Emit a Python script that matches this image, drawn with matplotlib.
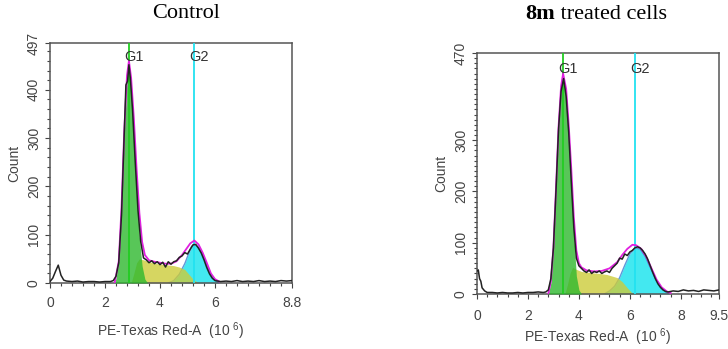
"""Cell-cycle DNA histograms: control vs 8m treated cells."""

import matplotlib

matplotlib.use("Agg")
import matplotlib.pyplot as plt
import matplotlib.transforms as mtransforms
from matplotlib.ticker import MultipleLocator

# ---- Control panel data (x in 10^6 units, y in counts) ----
ctrl_hist_x = [0.0, 0.1, 0.2, 0.3, 0.4, 0.5, 0.6, 0.8, 1.0, 1.2, 1.4, 1.6, 1.8, 2.0,
               2.2, 2.3, 2.4, 2.5, 2.6, 2.7, 2.76, 2.82, 2.87, 2.92, 3.0, 3.1, 3.2,
               3.3, 3.4, 3.5, 3.6, 3.7, 3.8, 3.9, 4.0, 4.1, 4.2, 4.3, 4.4, 4.5, 4.6,
               4.7, 4.8, 4.9, 5.0, 5.1, 5.2, 5.3, 5.4, 5.5, 5.6, 5.7, 5.8, 5.9, 6.0,
               6.2, 6.4, 6.6, 6.8, 7.0, 7.2, 7.4, 7.6, 7.8, 8.0, 8.2, 8.4, 8.6, 8.8]
ctrl_hist_y = [3, 10, 24, 37, 16, 6, 4, 3, 4, 2, 3, 3, 2, 3,
               3, 5, 14, 42, 140, 310, 410, 418, 452, 425, 360, 250, 150,
               85, 52, 48, 42, 46, 40, 44, 38, 43, 33, 44, 39, 44, 46,
               53, 56, 63, 60, 70, 79, 80, 72, 62, 48, 32, 19, 10, 5,
               3, 4, 3, 5, 3, 4, 3, 5, 3, 4, 3, 5, 4, 5]

ctrl_fit_x = [2.35, 2.5, 2.6, 2.7, 2.8, 2.87, 2.95, 3.05, 3.15, 3.25, 3.35, 3.45,
              3.6, 3.8, 4.0, 4.2, 4.4, 4.6, 4.8, 4.95, 5.1, 5.25, 5.4, 5.55, 5.7,
              5.85, 6.0, 6.15]
ctrl_fit_y = [0, 45, 155, 315, 430, 460, 425, 340, 235, 145, 85, 58,
              47, 44, 42, 40, 40, 45, 58, 70, 82, 88, 80, 63, 42,
              20, 8, 3]

ctrl_g1_x = [2.35, 2.4, 2.5, 2.6, 2.7, 2.8, 2.87, 2.95, 3.05, 3.15, 3.25, 3.35,
             3.45, 3.55]
ctrl_g1_y = [0, 10, 45, 150, 310, 425, 455, 420, 320, 195, 95, 35, 8, 0]

ctrl_s_x = [2.95, 3.05, 3.15, 3.25, 3.4, 3.6, 3.9, 4.2, 4.5, 4.7, 4.9, 5.05, 5.2,
            5.35, 5.45]
ctrl_s_y = [0, 20, 42, 50, 48, 44, 40, 38, 36, 33, 28, 18, 8, 2, 0]

ctrl_g2_x = [4.3, 4.5, 4.7, 4.9, 5.05, 5.15, 5.25, 5.4, 5.55, 5.7, 5.85, 6.0, 6.15]
ctrl_g2_y = [0, 5, 18, 40, 62, 76, 80, 74, 58, 38, 18, 6, 0]

ctrl_gates = [2.86, 5.25]
ctrl_xticks = [0, 2, 4, 6, 8.8]
ctrl_xlabels = ["0", "2", "4", "6", "8.8"]
ctrl_yticks = [0, 100, 200, 300, 400, 497]
ctrl_ylabels = ["0", "100", "200", "300", "400", "497"]

# ---- 8m treated panel data ----
trt_hist_x = [0.0, 0.05, 0.1, 0.15, 0.2, 0.3, 0.4, 0.6, 0.8, 1.0, 1.2, 1.4, 1.6,
              1.8, 2.0, 2.2, 2.4, 2.6, 2.7, 2.8, 2.9, 3.0, 3.1, 3.2, 3.3, 3.4,
              3.5, 3.6, 3.7, 3.8, 3.9, 4.0, 4.1, 4.2, 4.3, 4.4, 4.5, 4.6, 4.7,
              4.8, 4.9, 5.0, 5.1, 5.2, 5.3, 5.4, 5.5, 5.6, 5.7, 5.8, 5.9, 6.0,
              6.1, 6.2, 6.3, 6.4, 6.5, 6.6, 6.7, 6.8, 6.9, 7.0, 7.1, 7.2, 7.3,
              7.4, 7.5, 7.7, 7.9, 8.1, 8.3, 8.5, 8.7, 8.9, 9.1, 9.3, 9.5]
trt_hist_y = [45, 47, 30, 25, 12, 6, 3, 3, 2, 3, 2, 2, 3,
              2, 3, 3, 4, 3, 4, 8, 30, 90, 200, 320, 395, 420,
              385, 315, 220, 130, 70, 55, 50, 45, 42, 47, 40, 44, 42,
              45, 40, 43, 45, 42, 50, 55, 60, 70, 68, 78, 75, 82,
              85, 90, 92, 90, 85, 78, 68, 55, 42, 30, 20, 13, 8,
              5, 4, 6, 5, 8, 6, 7, 5, 8, 7, 6, 8]

trt_fit_x = [2.8, 2.9, 3.0, 3.1, 3.2, 3.3, 3.38, 3.5, 3.6, 3.7, 3.8, 3.9,
             4.0, 4.1, 4.3, 4.6, 4.9, 5.2, 5.5, 5.7, 5.9, 6.1, 6.25, 6.45, 6.65,
             6.85, 7.05, 7.25, 7.45, 7.6]
trt_fit_y = [0, 25, 90, 205, 325, 405, 430, 400, 330, 245, 150, 85,
             60, 52, 46, 44, 45, 50, 62, 76, 88, 96, 95, 88, 72,
             50, 28, 13, 5, 2]

trt_g1_x = [2.8, 2.9, 3.0, 3.1, 3.2, 3.3, 3.38, 3.5, 3.6, 3.7, 3.8, 3.9, 4.0, 4.1]
trt_g1_y = [0, 22, 90, 200, 320, 400, 420, 390, 320, 230, 115, 35, 8, 0]

trt_s_x = [3.45, 3.55, 3.65, 3.75, 3.9, 4.1, 4.4, 4.8, 5.1, 5.3, 5.5, 5.7, 5.9,
           6.05, 6.15]
trt_s_y = [0, 18, 40, 52, 48, 44, 42, 40, 38, 35, 32, 24, 12, 4, 0]

trt_g2_x = [5.0, 5.2, 5.4, 5.6, 5.8, 6.0, 6.2, 6.4, 6.6, 6.8, 7.0, 7.2, 7.4, 7.55]
trt_g2_y = [0, 6, 15, 32, 56, 78, 90, 88, 74, 52, 30, 14, 5, 0]

trt_gates = [3.37, 6.19]
trt_xticks = [0, 2, 4, 6, 8, 9.5]
trt_xlabels = ["0", "2", "4", "6", "8", "9.5"]
trt_yticks = [0, 100, 200, 300, 470]
trt_ylabels = ["0", "100", "200", "300", "470"]

gate_names = ["G1", "G2"]

W, H = 728, 349
SANS = ["Liberation Sans", "DejaVu Sans"]
SERIF = ["Liberation Serif", "DejaVu Serif"]
TICK_GRAY = "#444444"


def px_rect(left, top, right, bottom):
    return [left / W, 1 - bottom / H, (right - left) / W, (bottom - top) / H]


def draw_panel(ax, hist, fit, g1, s, g2, gates, xlim, ylim,
               xticks, xlabels, yticks, ylabels, xpad, xlabelpad, label_y):
    ax.fill_between(g2[0], g2[1], color="#22e4ee", alpha=0.85, lw=0, zorder=1)
    ax.plot(g2[0], g2[1], color="#3a7fd0", lw=1.0, alpha=0.8, zorder=1.5)
    ax.fill_between(s[0], s[1], color="#cccc3a", alpha=0.8, lw=0, zorder=2)
    ax.fill_between(g1[0], g1[1], color="#2eb82e", alpha=0.8, lw=0, zorder=3)

    gate_colors = ["#22cc22", "#22e2f0"]
    trans = mtransforms.blended_transform_factory(ax.transData, ax.transAxes)
    for pos, name, col in zip(gates, gate_names, gate_colors):
        ax.axvline(pos, color=col, lw=1.3, zorder=4)
        ax.annotate(name, xy=(pos, label_y), xycoords=trans, xytext=(3.5, 0),
                    textcoords="offset points", ha="center", va="center",
                    fontsize=10.5, color="#333333", family=SANS, zorder=6)

    ax.plot(fit[0], fit[1], color="#e020e0", lw=1.3, zorder=5)
    ax.plot(hist[0], hist[1], color="#222222", lw=1.1, zorder=5.5)

    ax.set_xlim(*xlim)
    ax.set_ylim(*ylim)
    ax.set_xticks(xticks, xlabels)
    ax.set_yticks(yticks, ylabels, rotation=90, va="center")
    ax.xaxis.set_minor_locator(MultipleLocator(0.4))
    ax.yaxis.set_minor_locator(MultipleLocator(20))
    ax.tick_params(which="both", direction="out", color=TICK_GRAY,
                   labelcolor=TICK_GRAY, labelsize=10, width=0.8)
    ax.tick_params(which="major", length=3.5)
    ax.tick_params(which="minor", length=2)
    ax.tick_params(axis="x", pad=xpad)
    ax.tick_params(axis="y", pad=3)
    for lab in ax.get_xticklabels() + ax.get_yticklabels():
        lab.set_family(SANS)
    for sp in ax.spines.values():
        sp.set_color("#555555")
        sp.set_linewidth(1.1)

    ax.set_xlabel("PE-Texas Red-A  (10 $^{6}$)", fontsize=10, color=TICK_GRAY,
                  family=SANS, labelpad=xlabelpad)
    ax.set_ylabel("Count", fontsize=10, color=TICK_GRAY, family=SANS, labelpad=4)


def main() -> None:
    plt.rcParams["mathtext.default"] = "regular"
    fig = plt.figure(figsize=(W / 100, H / 100), dpi=100)

    ax1 = fig.add_axes(px_rect(50, 43, 292, 283))
    draw_panel(ax1, (ctrl_hist_x, ctrl_hist_y), (ctrl_fit_x, ctrl_fit_y),
               (ctrl_g1_x, ctrl_g1_y), (ctrl_s_x, ctrl_s_y), (ctrl_g2_x, ctrl_g2_y),
               ctrl_gates, (0, 8.8), (0, 497), ctrl_xticks, ctrl_xlabels,
               ctrl_yticks, ctrl_ylabels, xpad=6, xlabelpad=7, label_y=0.94)

    ax2 = fig.add_axes(px_rect(477, 53, 719, 294))
    draw_panel(ax2, (trt_hist_x, trt_hist_y), (trt_fit_x, trt_fit_y),
               (trt_g1_x, trt_g1_y), (trt_s_x, trt_s_y), (trt_g2_x, trt_g2_y),
               trt_gates, (0, 9.5), (0, 470), trt_xticks, trt_xlabels,
               trt_yticks, trt_ylabels, xpad=7.5, xlabelpad=2, label_y=0.934)
    ax2.yaxis.set_minor_locator(MultipleLocator(10))

    fig.text(186 / W, 1 - 18 / H, "Control", ha="center", va="baseline",
             fontsize=16, family=SERIF)
    t1 = fig.text(525 / W, 1 - 19 / H, "8m", ha="left", va="baseline",
                  fontsize=16, family=SERIF, weight="bold")
    ax2.annotate(" treated cells", xy=(1, 0), xycoords=t1, ha="left", va="bottom",
                 fontsize=16, family=SERIF, annotation_clip=False)

    fig.savefig("out.png", dpi=100)


if __name__ == "__main__":
    main()
